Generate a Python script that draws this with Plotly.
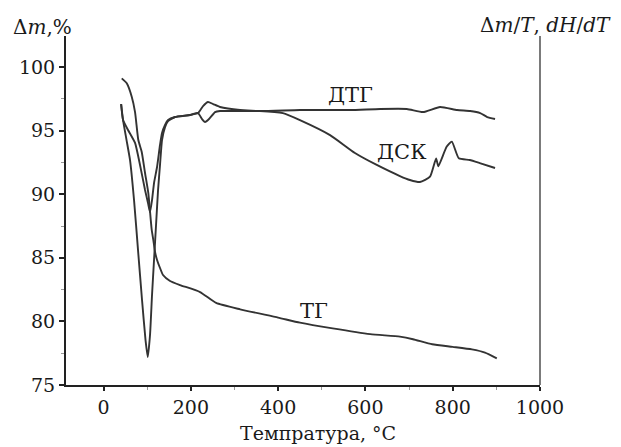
import plotly.graph_objects as go

# ---- data (temperature in °C, mass in %) ----
tg_x = [41.7, 53.2, 64.6, 72.2, 79.7, 87.5, 95.1, 102.6, 110.4, 114.1, 118.0, 122.6, 129.4, 136.3,
        152.4, 175.3, 221.1, 258, 313, 400, 450, 525, 611, 679, 709, 753, 800, 844, 874, 901]
tg_y = [99.11, 98.72, 97.67, 96.46, 94.26, 93.32, 91.67, 90.09, 87.19, 86.40, 85.46, 84.83, 84.20, 83.65,
        83.18, 82.86, 82.31, 81.45, 80.95, 80.3, 79.9, 79.45, 79.0, 78.8, 78.6, 78.2, 78.0, 77.8, 77.55, 77.1]

dtg_x = [40.3, 44.7, 52.7, 60.7, 69.9, 79.0, 88.2, 96.2, 101.3, 106.5, 111.1, 115.7, 120.3, 124.9,
         129.4, 134.0, 140.9, 147.8, 163.8, 198.2, 216.5, 228, 239.4, 250.9, 266.9, 312.7, 358.5,
         450, 565, 634, 695, 732, 771, 810, 840, 863, 879, 897]
dtg_y = [97.09, 95.83, 94.26, 92.69, 89.54, 85.61, 81.68, 78.54, 77.20, 78.93, 82.08, 84.83, 87.58, 90.33,
         92.30, 94.26, 95.28, 95.75, 96.07, 96.23, 96.38, 96.93, 97.25, 97.09, 96.86, 96.62, 96.54,
         96.62, 96.62, 96.70, 96.70, 96.46, 96.86, 96.62, 96.54, 96.38, 96.07, 95.91]

dsc_x = [40.3, 44.7, 56.1, 72.2, 83.6, 95.1, 101.9, 106.5, 111.1, 115.7, 122.6, 129.4, 134.0, 140.9,
         147.8, 163.8, 198.2, 216.5, 225.7, 232.6, 241.7, 255.5, 267, 312.7, 358.5, 411, 450, 519,
         576, 626, 679, 702, 725, 748, 762, 767, 786, 798, 814, 839, 862, 897]
dsc_y = [97.09, 95.83, 95.05, 94.03, 92.30, 90.33, 89.31, 88.60, 89.54, 90.88, 92.14, 93.87, 94.81, 95.44,
         95.83, 96.07, 96.23, 96.38, 95.91, 95.68, 95.91, 96.46, 96.54, 96.54, 96.54, 96.38, 95.83, 94.65,
         93.24, 92.30, 91.43, 91.12, 90.96, 91.38, 92.82, 92.20, 93.73, 94.13, 92.82, 92.69, 92.45, 92.06]

x_ticks = [0, 200, 400, 600, 800, 1000]
y_ticks = [75, 80, 85, 90, 95, 100]

curve_labels = ["ТГ", "ДТГ", "ДСК"]
label_pos = [(483, 80.8), (565, 97.8), (682, 93.3)]

FONT = "DejaVu Serif"
LINE = "#333333"
TXT = "#1a1a1a"

fig = go.Figure()
for xs, ys in [(tg_x, tg_y), (dtg_x, dtg_y), (dsc_x, dsc_y)]:
    fig.add_trace(go.Scatter(x=xs, y=ys, mode="lines",
                             line=dict(color=LINE, width=1.9, shape="spline", smoothing=0.5),
                             showlegend=False, hoverinfo="skip"))

for t, (lx, ly) in zip(curve_labels, label_pos):
    fig.add_annotation(x=lx, y=ly, text=t, showarrow=False,
                       font=dict(family=FONT, size=21, color=TXT))

fig.add_annotation(xref="paper", yref="paper", x=-0.05, y=1.026, xanchor="center", yanchor="middle",
                   text="Δ<i>m</i>,%", showarrow=False, font=dict(family=FONT, size=20, color=TXT))
fig.add_annotation(xref="paper", yref="paper", x=1.154, y=1.0315, xanchor="right", yanchor="middle",
                   text="Δ<i>m</i>/<i>T</i>, <i>dH</i>/<i>dT</i>",
                   showarrow=False, font=dict(family=FONT, size=20, color=TXT))
fig.add_annotation(xref="paper", yref="paper", x=0.532, y=-0.138, xanchor="center", yanchor="middle",
                   text="Темпратура, °C", showarrow=False, font=dict(family=FONT, size=19, color=TXT))

fig.add_shape(type="line", xref="paper", yref="paper", x0=1, x1=1, y0=0, y1=1,
              line=dict(color="#222", width=1.2))

fig.update_layout(
    width=613, height=439,
    margin=dict(l=58, r=81, t=28, b=62),
    paper_bgcolor="white", plot_bgcolor="white",
    font=dict(family=FONT, size=19, color=TXT),
    xaxis=dict(range=[-86, 1000], tickvals=x_ticks, showgrid=False, zeroline=False,
               showline=True, linecolor="#222", linewidth=2,
               ticks="outside", ticklen=4, tickwidth=1.5, tickcolor="#222",
               minor=dict(tickvals=[100, 300, 500, 700, 900], ticks="outside", ticklen=3,
                          tickcolor="#999", tickwidth=1)),
    yaxis=dict(range=[75, 102.44], tickvals=y_ticks, showgrid=False, zeroline=False,
               showline=True, linecolor="#222", linewidth=2,
               ticks="outside", ticklen=5, tickwidth=1.5, tickcolor="#222",
               minor=dict(tickvals=[77.5, 82.5, 87.5, 92.5, 97.5], ticks="outside", ticklen=3,
                          tickcolor="#999", tickwidth=1)),
)

fig.write_html("out.html")
